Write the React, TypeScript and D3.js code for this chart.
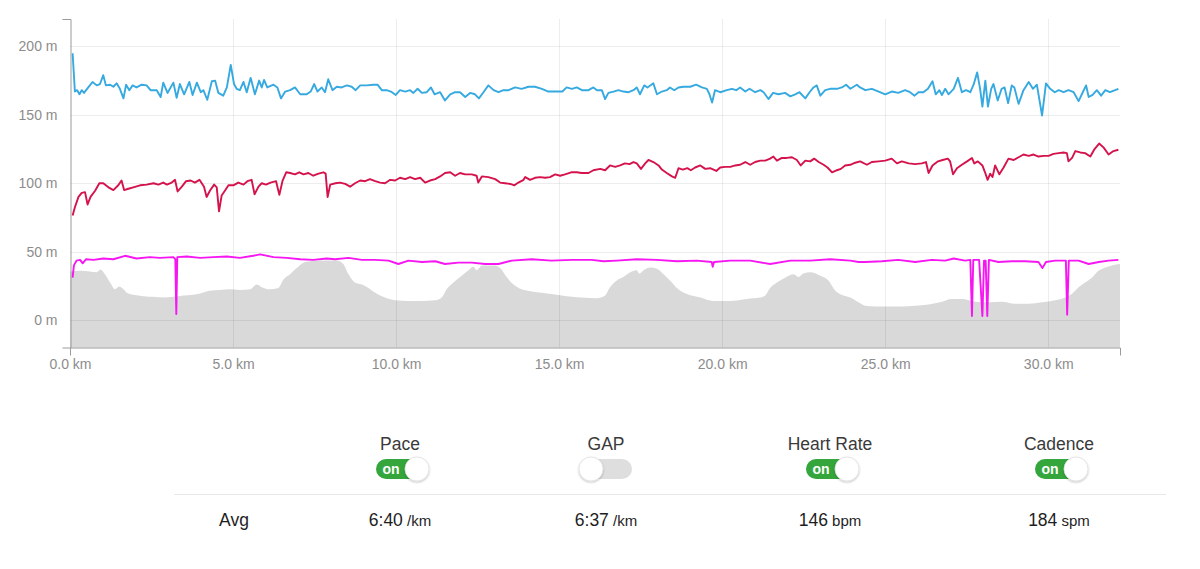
import * as d3 from 'd3'
import { useEffect, useRef } from 'react'

// [km, value on the chart's axis]
const paceTrack: [number, number][] = [
  [0.08, 195], [0.15, 167], [0.22, 168], [0.29, 165], [0.36, 168], [0.43, 166], [0.56, 170], [0.69, 174],
  [0.82, 171.5], [0.92, 172.5], [1.02, 179], [1.1, 171.5], [1.23, 172], [1.33, 170.5], [1.43, 173], [1.53, 169],
  [1.64, 162], [1.72, 172], [1.82, 168], [1.92, 171.5], [2.04, 170], [2.2, 172], [2.35, 171.5], [2.47, 168],
  [2.66, 168], [2.78, 163], [2.86, 173.5], [2.99, 166], [3.17, 173.5], [3.27, 162.5], [3.37, 172.5], [3.5, 165],
  [3.66, 174], [3.76, 164.5], [3.89, 173.5], [4.01, 166.5], [4.09, 168], [4.21, 161], [4.35, 174.5], [4.45, 175],
  [4.55, 166], [4.7, 164], [4.81, 170], [4.93, 186.5], [5.03, 172.5], [5.11, 169], [5.21, 168], [5.32, 174],
  [5.42, 166.5], [5.54, 177], [5.67, 165], [5.8, 175], [5.88, 170], [5.95, 175.5], [6.05, 170], [6.24, 172],
  [6.36, 170], [6.47, 162], [6.6, 167], [6.75, 168], [6.9, 170], [7.06, 165], [7.26, 165], [7.38, 167],
  [7.49, 172.5], [7.59, 167], [7.72, 170], [7.82, 166.5], [7.92, 176], [8.05, 168], [8.18, 170.5], [8.33, 170],
  [8.49, 171.5], [8.64, 170.5], [8.76, 168], [8.9, 171.5], [9.1, 171.5], [9.3, 172], [9.43, 172], [9.56, 168],
  [9.71, 168], [9.84, 167], [9.99, 164.5], [10.12, 168], [10.28, 167], [10.43, 168], [10.53, 166], [10.66, 169],
  [10.79, 166], [10.94, 166.5], [11.07, 170], [11.18, 165], [11.35, 166.5], [11.5, 160.5], [11.66, 165], [11.81, 166.5],
  [11.96, 166.5], [12.12, 163], [12.27, 166], [12.42, 165], [12.54, 162], [12.68, 166.5], [12.83, 171.5], [12.99, 168],
  [13.14, 166.5], [13.29, 168], [13.45, 168], [13.65, 170], [13.85, 169], [14.06, 170.5], [14.26, 170.5], [14.47, 169],
  [14.67, 167], [14.88, 167], [15.1, 167], [15.23, 170], [15.39, 169], [15.54, 170], [15.7, 168], [15.9, 168],
  [16.05, 170], [16.16, 168], [16.31, 168], [16.41, 161.5], [16.51, 166], [16.67, 167], [16.82, 168], [16.97, 167],
  [17.13, 166.5], [17.28, 168], [17.38, 170], [17.48, 165], [17.61, 171.5], [17.71, 170], [17.89, 173], [18.0, 165],
  [18.15, 167], [18.3, 168], [18.4, 170], [18.53, 168], [18.66, 170], [18.81, 170.5], [19.02, 170.5], [19.2, 172],
  [19.38, 170], [19.53, 169], [19.61, 165], [19.69, 159], [19.78, 168], [19.94, 166.5], [20.14, 168], [20.3, 169],
  [20.43, 168], [20.55, 170], [20.71, 167], [20.84, 169], [21.01, 166.5], [21.17, 168], [21.27, 166.5], [21.42, 161.5],
  [21.56, 166], [21.73, 165], [21.93, 166], [22.09, 163.5], [22.24, 165], [22.37, 166.5], [22.55, 162], [22.68, 166.5],
  [22.8, 170], [22.9, 171.5], [23.01, 164], [23.16, 168], [23.31, 169], [23.52, 169], [23.67, 170], [23.8, 172],
  [23.93, 169], [24.13, 172], [24.23, 170], [24.39, 168], [24.59, 169], [24.8, 167], [25.0, 165], [25.2, 167],
  [25.4, 166], [25.61, 168], [25.76, 166.5], [25.9, 164], [26.02, 166.5], [26.17, 166.5], [26.31, 169], [26.45, 174.5],
  [26.55, 165], [26.66, 168], [26.74, 164.5], [26.84, 169], [26.94, 165], [27.1, 169], [27.23, 177], [27.35, 166.5],
  [27.48, 168], [27.61, 166.5], [27.71, 172], [27.82, 181], [27.91, 169], [27.98, 156], [28.07, 175], [28.15, 156],
  [28.25, 169], [28.32, 172.5], [28.45, 160.5], [28.57, 169], [28.66, 170], [28.77, 158.5], [28.88, 171.5], [28.96, 170],
  [29.09, 158], [29.24, 168], [29.4, 174], [29.53, 169], [29.65, 172], [29.81, 149.5], [29.93, 173], [30.06, 169],
  [30.2, 166.5], [30.32, 168], [30.47, 166.5], [30.62, 168], [30.78, 166.5], [30.93, 160], [31.03, 165], [31.16, 171.5],
  [31.24, 163], [31.36, 164.5], [31.49, 168], [31.62, 164], [31.75, 168], [31.89, 166.5], [32.05, 168], [32.15, 169],
]

const heartRateTrack: [number, number][] = [
  [0.08, 76.5], [0.15, 82.5], [0.26, 90], [0.36, 93], [0.46, 93.5], [0.54, 84.5], [0.63, 90], [0.77, 94.5],
  [0.9, 100], [1.02, 100], [1.18, 97], [1.33, 95], [1.48, 98.5], [1.58, 102], [1.66, 95], [1.79, 96],
  [1.94, 97], [2.15, 98.5], [2.35, 99], [2.56, 100], [2.71, 99], [2.86, 100.5], [2.97, 99], [3.12, 100.5],
  [3.22, 102.5], [3.3, 94], [3.43, 97.5], [3.56, 101.5], [3.7, 102], [3.83, 100.5], [3.97, 102.5], [4.11, 97.5],
  [4.19, 90], [4.29, 94.5], [4.42, 99], [4.5, 97], [4.57, 79.5], [4.65, 91], [4.75, 94.5], [4.86, 98.5],
  [5.01, 98.5], [5.16, 100.5], [5.32, 99], [5.44, 101.5], [5.57, 102.5], [5.66, 92], [5.78, 97.5], [5.88, 100],
  [6.01, 99], [6.15, 100.5], [6.32, 101.5], [6.42, 91.5], [6.52, 102], [6.63, 108], [6.75, 107.5], [6.9, 106.5],
  [7.03, 108], [7.16, 106.5], [7.31, 107.5], [7.46, 105.5], [7.62, 107], [7.77, 108], [7.84, 107], [7.9, 90],
  [7.98, 99], [8.14, 100], [8.28, 100.5], [8.44, 99.5], [8.59, 97.5], [8.74, 100], [8.9, 102], [9.05, 101.5],
  [9.2, 103], [9.36, 101.5], [9.51, 100.5], [9.66, 100], [9.82, 102.5], [9.97, 102], [10.12, 104], [10.28, 103],
  [10.43, 104.5], [10.58, 103], [10.74, 104], [10.89, 100.5], [11.04, 102], [11.2, 103], [11.35, 105], [11.5, 107.5],
  [11.66, 108], [11.81, 105.5], [11.96, 107.5], [12.12, 106.5], [12.32, 106.5], [12.47, 105.5], [12.52, 100.5], [12.63, 105],
  [12.83, 104.5], [13.04, 103], [13.19, 100.5], [13.34, 100], [13.5, 99.5], [13.63, 98.5], [13.75, 100.5], [13.91, 102.5],
  [13.96, 104.5], [14.11, 102.5], [14.26, 104], [14.42, 104.5], [14.57, 104], [14.72, 104.5], [14.88, 106.5], [15.03, 105.5],
  [15.18, 106.5], [15.37, 108], [15.54, 108], [15.69, 107.5], [15.9, 107.5], [16.05, 109.5], [16.26, 110.5], [16.41, 109.5],
  [16.56, 113], [16.72, 112], [16.87, 113], [17.02, 114.5], [17.16, 114], [17.28, 115.5], [17.38, 114.5], [17.51, 110.5],
  [17.64, 114.5], [17.74, 117], [17.89, 115.5], [18.05, 113], [18.15, 110], [18.3, 107.5], [18.46, 105], [18.56, 104],
  [18.66, 111], [18.79, 110], [18.93, 111], [19.04, 109.5], [19.17, 111.5], [19.33, 113], [19.48, 110.5], [19.63, 111],
  [19.82, 109], [19.94, 111.5], [20.09, 112], [20.25, 112], [20.4, 113], [20.55, 113.5], [20.71, 115.5], [20.86, 113.5],
  [21.01, 115.5], [21.17, 116.5], [21.32, 116.5], [21.47, 118], [21.57, 119.5], [21.68, 116.5], [21.83, 118.5], [21.98, 118.5],
  [22.14, 119], [22.29, 117], [22.41, 113], [22.55, 116.5], [22.7, 116], [22.82, 118], [22.96, 115.5], [23.11, 113.5],
  [23.23, 111.5], [23.37, 108], [23.52, 109.5], [23.64, 110.5], [23.77, 113], [23.93, 113.5], [24.08, 115], [24.23, 116],
  [24.44, 113.5], [24.59, 115.5], [24.8, 116], [25.0, 116.5], [25.2, 118], [25.36, 114.5], [25.51, 116], [25.72, 114.5],
  [25.92, 114], [26.12, 114.5], [26.25, 115.5], [26.33, 107.5], [26.45, 113], [26.62, 116], [26.76, 117], [26.92, 118],
  [26.99, 116], [27.08, 106.5], [27.2, 111], [27.35, 113.5], [27.51, 116], [27.66, 118.5], [27.73, 114.5], [27.84, 116],
  [27.98, 113], [28.06, 108], [28.14, 102.5], [28.22, 107], [28.29, 104.5], [28.37, 113], [28.5, 106.5], [28.63, 111.5],
  [28.78, 118], [28.94, 117], [29.09, 119], [29.24, 121], [29.4, 120], [29.55, 121], [29.7, 119.5], [29.86, 120],
  [30.01, 120], [30.16, 121.5], [30.32, 122], [30.47, 122.5], [30.57, 122], [30.62, 116], [30.73, 118.5], [30.83, 123.5],
  [30.98, 122.5], [31.13, 122], [31.29, 119.5], [31.42, 125], [31.56, 129], [31.7, 126], [31.85, 121], [32.0, 123.5],
  [32.15, 124.5],
]

const cadenceTrack: [number, number][] = [
  [0.08, 31], [0.12, 40], [0.2, 43.5], [0.31, 44], [0.39, 41.5], [0.49, 44.5], [0.72, 44], [1.02, 45],
  [1.33, 44.5], [1.69, 47], [2.04, 45], [2.45, 46], [2.76, 45.5], [3.17, 46], [3.23, 44.5], [3.26, 4.5],
  [3.29, 46], [3.58, 46.5], [3.99, 45.5], [4.4, 46], [4.81, 46.5], [5.21, 45.5], [5.62, 47], [5.83, 48],
  [6.24, 46], [6.65, 45.5], [7.06, 44.5], [7.46, 44], [7.87, 45], [8.13, 44.5], [8.54, 45.5], [8.95, 44],
  [9.36, 44], [9.77, 43.5], [10.07, 41], [10.38, 43.5], [10.79, 42.5], [11.2, 43], [11.5, 41], [11.91, 42],
  [12.32, 42], [12.73, 41], [13.14, 41], [13.55, 43.5], [14.16, 44.5], [14.77, 43.5], [15.39, 44], [16.0, 44],
  [16.36, 43], [16.77, 43.5], [17.38, 44.5], [18.0, 44], [18.61, 43], [19.22, 43.5], [19.68, 42.5], [19.71, 39],
  [19.75, 42.5], [20.25, 43.5], [20.86, 43.5], [21.47, 41], [22.09, 43.5], [22.7, 43.5], [23.31, 44.5], [23.93, 43.5],
  [24.18, 42.5], [24.39, 42.5], [24.9, 43], [25.4, 44], [25.92, 42.5], [26.43, 44], [26.84, 43.5], [27.1, 45],
  [27.45, 43.5], [27.61, 44], [27.66, 3], [27.7, 44], [27.88, 44], [27.98, 3], [28.03, 43.5], [28.08, 43.5],
  [28.13, 3], [28.18, 44], [28.47, 42.5], [28.88, 43], [29.29, 43], [29.7, 42.5], [29.82, 38], [29.93, 42.5],
  [30.21, 43.5], [30.54, 43.5], [30.58, 4], [30.63, 43.5], [30.93, 43.5], [31.24, 41], [31.55, 42.5], [31.85, 43.5],
  [32.15, 44],
]

const elevation: [number, number][] = [
  [0, 35.5], [0.31, 36], [0.61, 35.5], [0.82, 35], [0.94, 37], [1.07, 33.5], [1.23, 27.5], [1.38, 22.5],
  [1.51, 24.5], [1.64, 22.5], [1.74, 20], [1.94, 18.5], [2.25, 17.5], [2.56, 17], [2.86, 16.5], [3.17, 17],
  [3.48, 18], [3.78, 18.5], [3.99, 19.5], [4.29, 21.5], [4.6, 22], [4.91, 22.5], [5.21, 22], [5.52, 22.5],
  [5.73, 26], [5.88, 24], [6.13, 22.5], [6.39, 23.5], [6.54, 29.5], [6.75, 33.5], [6.95, 38], [7.16, 42],
  [7.36, 43], [7.67, 43.5], [8.18, 43.5], [8.38, 41], [8.54, 33.5], [8.74, 27.5], [8.95, 26], [9.15, 23.5],
  [9.36, 20], [9.66, 16.5], [9.97, 14.5], [10.38, 14], [10.79, 14], [11.2, 14.5], [11.4, 16.5], [11.55, 22.5],
  [11.76, 27.5], [12.01, 32.5], [12.22, 36.5], [12.37, 39], [12.47, 36.5], [12.63, 40], [12.83, 40], [13.04, 40],
  [13.19, 38], [13.39, 31.5], [13.6, 26], [13.85, 22.5], [14.16, 21], [14.47, 20], [14.77, 19], [15.08, 18],
  [15.39, 17], [15.69, 16.5], [16.16, 16], [16.41, 18], [16.56, 24], [16.77, 29], [16.97, 31.5], [17.23, 35.5],
  [17.38, 36.5], [17.46, 34], [17.59, 36.5], [17.79, 38.5], [18.0, 37.5], [18.2, 33.5], [18.4, 29], [18.61, 23.5],
  [18.92, 19], [19.33, 16.5], [19.73, 14], [20.25, 14], [20.76, 15.5], [21.17, 16.5], [21.32, 18], [21.47, 23.5],
  [21.68, 27.5], [21.93, 31], [22.19, 33.5], [22.34, 31.5], [22.49, 34], [22.7, 35], [23.01, 32.5], [23.26, 29],
  [23.47, 21.5], [23.72, 18], [23.93, 16.5], [24.18, 13], [24.39, 10.5], [24.69, 10], [25.1, 10], [25.51, 10],
  [25.92, 10.5], [26.33, 11.5], [26.74, 13.5], [27.04, 15.5], [27.35, 15.5], [27.76, 13.5], [28.17, 13], [28.57, 13.5],
  [28.98, 12], [29.4, 12], [29.81, 13], [30.21, 14.5], [30.52, 16.5], [30.72, 19], [30.93, 24], [31.13, 27.5],
  [31.34, 31], [31.54, 36], [31.75, 38.5], [31.95, 40], [32.2, 41],
]

const kmTicks = [0, 5, 10, 15, 20, 25, 30]
const meterTicks = [0, 50, 100, 150, 200]

const columns = ['Pace', 'GAP', 'Heart Rate', 'Cadence']
const columnOn = [true, false, true, true]
const avgNumbers = ['6:40', '6:37', '146', '184']
const avgUnits = ['/km', '/km', 'bpm', 'spm']
const columnX = [400, 606, 830, 1059]

const FONT = '"Helvetica Neue", Helvetica, "Liberation Sans", Arial, sans-serif'

export default function App() {
  const chartRef = useRef<SVGGElement | null>(null)

  useEffect(() => {
    if (!chartRef.current) return
    const g = d3.select(chartRef.current)
    g.selectAll('*').remove()

    const x = d3.scaleLinear().domain([0, 32.2]).range([70, 1120])
    const y = d3.scaleLinear().domain([-20, 220]).range([347.5, 19])

    const area = d3.area<[number, number]>()
      .x((d) => x(d[0]))
      .y0(y(-20))
      .y1((d) => y(d[1]))
      .curve(d3.curveMonotoneX)

    g.append('path').datum(elevation).attr('d', area).attr('fill', '#d9d9d9')

    // grid
    g.append('g')
      .selectAll('line')
      .data(meterTicks)
      .join('line')
      .attr('x1', 70).attr('x2', 1120)
      .attr('y1', (d) => Math.round(y(d)) + 0.5).attr('y2', (d) => Math.round(y(d)) + 0.5)
      .attr('stroke', 'rgba(0,0,0,0.07)')
    g.append('g')
      .selectAll('line')
      .data(kmTicks.slice(1))
      .join('line')
      .attr('x1', (d) => Math.round(x(d)) + 0.5).attr('x2', (d) => Math.round(x(d)) + 0.5)
      .attr('y1', 19).attr('y2', 347.5)
      .attr('stroke', 'rgba(0,0,0,0.07)')

    const line = d3.line<[number, number]>().x((d) => x(d[0])).y((d) => y(d[1]))
    const series: [[number, number][], string][] = [
      [cadenceTrack, '#f516f2'],
      [heartRateTrack, '#d4124c'],
      [paceTrack, '#35a9e0'],
    ]
    series.forEach(([data, color]) => {
      g.append('path')
        .datum(data)
        .attr('d', line)
        .attr('fill', 'none')
        .attr('stroke', color)
        .attr('stroke-width', 1.9)
        .attr('stroke-linejoin', 'round')
    })

    const yAxis = g.append('g')
      .attr('transform', 'translate(70.5,0)')
      .call(d3.axisLeft(y).tickValues(meterTicks).tickSize(0).tickSizeOuter(8).tickPadding(13).tickFormat((d) => `${d} m`))
    const xAxis = g.append('g')
      .attr('transform', 'translate(0,347.5)')
      .call(d3.axisBottom(x).tickValues(kmTicks).tickSize(0).tickSizeOuter(8).tickPadding(12).tickFormat((d) => `${(+d).toFixed(1)} km`))

    for (const axis of [yAxis, xAxis]) {
      axis.select('.domain').attr('stroke', '#9a9a9a')
      axis.selectAll('text')
        .style('font-family', FONT)
        .style('font-size', '14px')
        .attr('fill', '#8c8c8c')
    }
  }, [])

  return (
    <svg width={1200} height={569} style={{ position: 'absolute', left: 0, top: 0, background: '#fff' }}>
      <defs>
        <filter id="knobShadow" x="-50%" y="-50%" width="200%" height="200%">
          <feDropShadow dx="0" dy="1" stdDeviation="1" floodColor="#000" floodOpacity="0.25" />
        </filter>
      </defs>
      <g ref={chartRef} />
      <g fontFamily={FONT}>
        {columns.map((name, i) => {
          const cx = columnX[i]
          const on = columnOn[i]
          return (
            <g key={name}>
              <text x={cx} y={450} textAnchor="middle" fontSize={17.5} fill="#3a3a3a">{name}</text>
              <rect x={cx - 24} y={459} width={50} height={20} rx={10} fill={on ? '#34a63c' : '#dedede'} />
              {on && (
                <text x={cx - 9} y={474} textAnchor="middle" fontSize={14} fontWeight="bold" fill="#fff">on</text>
              )}
              <circle cx={on ? cx + 17 : cx - 15} cy={469} r={12} fill="#fff" stroke="#e0e0e0" strokeWidth={0.8} filter="url(#knobShadow)" />
              <text x={cx} y={526} textAnchor="middle" fill="#1e1e1e">
                <tspan fontSize={17.5}>{avgNumbers[i]}</tspan>
                <tspan fontSize={15}>{' ' + avgUnits[i]}</tspan>
              </text>
            </g>
          )
        })}
        <line x1={174} x2={1166} y1={494.5} y2={494.5} stroke="#e8e8e8" />
        <text x={234} y={526} textAnchor="middle" fontSize={17.5} fill="#1e1e1e">Avg</text>
      </g>
    </svg>
  )
}
